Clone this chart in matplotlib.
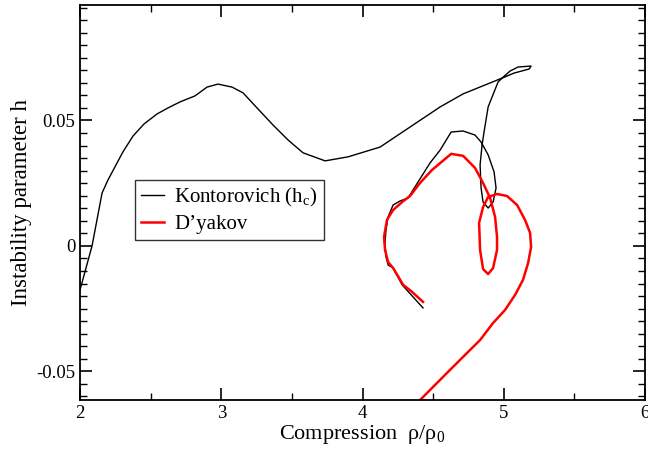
import numpy as np
import matplotlib
matplotlib.use("Agg")
import matplotlib.pyplot as plt
from matplotlib.ticker import MultipleLocator

plt.rcParams["font.family"] = ["Liberation Serif", "DejaVu Serif"]
plt.rcParams["mathtext.fontset"] = "custom"
plt.rcParams["mathtext.rm"] = "Liberation Serif"

# Kontorovich h_c curve
kont_x = [2.0, 2.085, 2.156, 2.198, 2.304, 2.375, 2.453, 2.545, 2.623, 2.708,
          2.814, 2.899, 2.977, 3.076, 3.154, 3.253, 3.366, 3.473, 3.579, 3.735,
          3.897, 4.124, 4.549, 4.712, 4.988, 5.044, 5.101, 5.193, 5.179, 5.073,
          4.988, 4.959, 4.889, 4.860, 4.846, 4.832, 4.839, 4.853, 4.889, 4.924,
          4.945, 4.931, 4.889, 4.839, 4.796, 4.712, 4.627, 4.549, 4.478, 4.393,
          4.322, 4.265, 4.216, 4.181, 4.166, 4.159, 4.166, 4.181, 4.216, 4.280,
          4.357, 4.428]
kont_y = [-0.0175, 0.0, 0.0211, 0.0263, 0.0375, 0.0438, 0.0486, 0.0526, 0.0550, 0.0574,
          0.0598, 0.0633, 0.0645, 0.0633, 0.0610, 0.0550, 0.0482, 0.0422, 0.0371, 0.0339,
          0.0355, 0.0394, 0.0554, 0.0606, 0.0669, 0.0697, 0.0713, 0.0717, 0.0705, 0.0689,
          0.0669, 0.0653, 0.0554, 0.0454, 0.0402, 0.0323, 0.0231, 0.0175, 0.0151, 0.0175,
          0.0231, 0.0295, 0.0363, 0.0414, 0.0442, 0.0458, 0.0454, 0.0382, 0.0331, 0.0255,
          0.0191, 0.0179, 0.0163, 0.0116, 0.0064, 0.0012, -0.0044, -0.0076, -0.0088, -0.0155,
          -0.0203, -0.0247]

# D'yakov curve
dyak_x = [4.428, 4.350, 4.287, 4.258, 4.216, 4.181, 4.159, 4.152, 4.173, 4.216,
          4.280, 4.336, 4.407, 4.492, 4.627, 4.712, 4.796, 4.853, 4.903, 4.938,
          4.952, 4.952, 4.924, 4.889, 4.853, 4.832, 4.825, 4.853, 4.889, 4.952,
          5.023, 5.094, 5.150, 5.186, 5.193, 5.172, 5.136, 5.080, 5.009, 4.924,
          4.832, 4.712, 4.598, 4.478, 4.400]
dyak_y = [-0.0223, -0.0183, -0.0155, -0.0127, -0.0088, -0.0064, -0.0016, 0.0036, 0.0104, 0.0143,
          0.0175, 0.0199, 0.0251, 0.0303, 0.0367, 0.0359, 0.0311, 0.0251, 0.0191, 0.0116,
          0.0036, -0.0016, -0.0088, -0.0112, -0.0092, -0.0016, 0.0092, 0.0155, 0.0195, 0.0207,
          0.0199, 0.0163, 0.0104, 0.0052, -0.0004, -0.0068, -0.0135, -0.0195, -0.0255, -0.0307,
          -0.0375, -0.0442, -0.0506, -0.0574, -0.0618]

fig = plt.figure(figsize=(6.48, 4.55), dpi=100)
ax = fig.add_axes([0.1235, 0.1209, 0.872, 0.868])

ax.plot(kont_x, kont_y, color="black", lw=1.0, label="Kontorovich (h$_{\\mathrm{c}}$)")
ax.plot(dyak_x, dyak_y, color="red", lw=1.8, label="D\u2019yakov")

ax.set_xlim(2, 6)
ax.set_ylim(-0.0614, 0.096)
ax.xaxis.set_major_locator(MultipleLocator(1))
ax.xaxis.set_minor_locator(MultipleLocator(0.5))
ax.yaxis.set_major_locator(MultipleLocator(0.05))
ax.yaxis.set_minor_locator(MultipleLocator(0.005))
ax.set_yticks([-0.05, 0, 0.05])
ax.set_yticklabels(["-0.05", "0", "0.05"])
ax.tick_params(which="both", direction="in", top=True, right=True, labelsize=13.5)
ax.tick_params(which="major", length=8.5, width=1.2)
ax.tick_params(which="minor", length=5, width=1.0)
for s in ax.spines.values():
    s.set_linewidth(1.3)

ax.set_xlabel("Compression  \u03c1/\u03c1$_{\\mathrm{0}}$", fontsize=16, labelpad=1)
ax.set_ylabel("Instability parameter h", fontsize=16.5, labelpad=3)

leg = ax.legend(loc="upper left", bbox_to_anchor=(0.097, 0.557), borderaxespad=0,
                fontsize=15, frameon=True, fancybox=False, edgecolor="black",
                handlelength=1.1, handletextpad=0.5, borderpad=0.3, labelspacing=0.25)
leg.get_frame().set_linewidth(1.0)

plt.savefig("out.png", dpi=100)
